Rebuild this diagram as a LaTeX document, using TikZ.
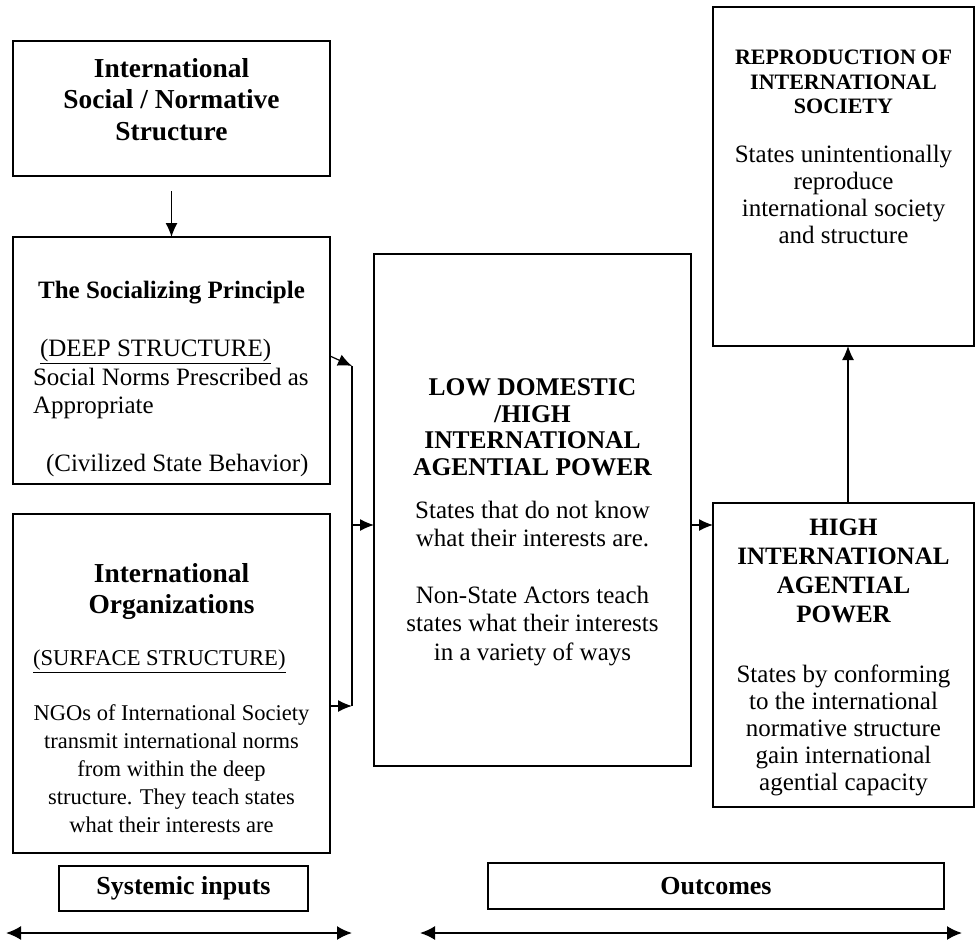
\documentclass[tikz,border=0pt]{standalone}
\usepackage{fontspec}
\setmainfont{Liberation Serif}
\usetikzlibrary{arrows.meta}

\newcommand{\fsz}[2]{\fontsize{#1pt}{#2pt}\selectfont}

\begin{document}
\begin{tikzpicture}[x=1pt,y=-1pt,
  box/.style={draw, line width=1.2pt, inner sep=0pt, outer sep=0pt},
  txt/.style={inner sep=0pt, outer sep=0pt, align=center},
  txtl/.style={inner sep=0pt, outer sep=0pt, align=left},
  arr/.style={line width=1.2pt, -{Latex[length=14pt,width=12pt]}},
  wide/.style={line width=1.8pt, {Latex[length=15pt,width=14pt]}-{Latex[length=15pt,width=14pt]}}]
\useasboundingbox (0,0) rectangle (975,942);

% boxes
\node[box, minimum width=317pt, minimum height=135pt] (boxA) at (171.5,108.5) {};
\node[box, minimum width=317pt, minimum height=247pt] (boxB) at (171.5,360.5) {};
\node[box, minimum width=317pt, minimum height=339pt] (boxC) at (171.5,683.5) {};
\node[box, minimum width=317pt, minimum height=512pt] (mid) at (532.5,510) {};
\node[box, minimum width=261pt, minimum height=339pt] (rtop) at (843.5,176.5) {};
\node[box, minimum width=261pt, minimum height=304pt] (rlow) at (843.5,655) {};
\node[box, minimum width=249pt, minimum height=45pt] (sysin) at (183.5,888.5) {};
\node[box, minimum width=456pt, minimum height=46pt] (outc) at (716,886) {};

% texts of the left column
\node[txt, anchor=north, font=\fsz{27.4}{31.7}\bfseries] (tA) at (171.5,58) {International\\Social / Normative\\Structure};
\node[txt, anchor=north, font=\fsz{25}{28.5}\bfseries] (tBh) at (171.5,281) {The Socializing Principle};
\node[txtl, anchor=north west, font=\fsz{25}{28.5}] (tBd) at (40,339) {\underline{(DEEP STRUCTURE)}};
\node[txtl, anchor=north west, font=\fsz{25}{28.3}] (tBn) at (33,368) {Social Norms Prescribed as\\Appropriate};
\node[txtl, anchor=north west, font=\fsz{25}{28.5}] (tBc) at (46,454) {(Civilized State Behavior)};
\node[txt, anchor=north, font=\fsz{27.4}{31.5}\bfseries] (tCh) at (171.5,563) {International\\Organizations};
\node[txtl, anchor=north west, font=\fsz{22.6}{27.5}] (tCs) at (33,650) {\underline{(SURFACE STRUCTURE)}};
\node[txt, anchor=north, font=\fsz{22.5}{28}] (tCn) at (171.5,705) {NGOs of International Society\\transmit international norms\\from within the deep\\structure. They teach states\\what their interests are};

% texts of the middle box
\node[txt, anchor=north, font=\fsz{25.5}{26.5}\bfseries] (tMh) at (532.5,379) {LOW DOMESTIC\\/HIGH\\INTERNATIONAL\\AGENTIAL POWER};
\node[txt, anchor=north, font=\fsz{25}{28.5}] (tM1) at (532.5,501) {States that do not know\\what their interests are.};
\node[txt, anchor=north, font=\fsz{25}{28.5}] (tM2) at (532.5,586) {Non-State Actors teach\\states what their interests\\in a variety of ways};

% texts of the right column
\node[txt, anchor=north, font=\fsz{22}{24.5}\bfseries] (tRh) at (843.5,50) {REPRODUCTION OF\\INTERNATIONAL\\SOCIETY};
\node[txt, anchor=north, font=\fsz{25}{27}] (tRb) at (843.5,145) {States unintentionally\\reproduce\\international society\\and structure};
\node[txt, anchor=north, font=\fsz{25}{29}\bfseries] (tLh) at (843.5,519) {HIGH\\INTERNATIONAL\\AGENTIAL\\POWER};
\node[txt, anchor=north, font=\fsz{25}{27}] (tLb) at (843.5,665) {States by conforming\\to the international\\normative structure\\gain international\\agential capacity};

% labels under the columns
\node[txt, font=\fsz{26}{28}\bfseries] (tS) at (sysin) {Systemic inputs};
\node[txt, font=\fsz{26}{28}\bfseries] (tO) at (outc) {Outcomes};

% connectors
\coordinate (bt) at (0,356);
\coordinate (jtop) at (352,366);
\coordinate (jmid) at (352,525);
\coordinate (jbot) at (352,706);
\coordinate (upx) at (848,0);
\draw[arr, shorten <=15pt] (boxA.south) -- (boxB.north);
\draw[arr] (boxB.east |- bt) -- (jtop);
\draw[line width=1.2pt] (jtop) -- (jbot);
\draw[arr] (boxC.east |- jbot) -- (jbot);
\draw[arr] (jmid) -- (mid.west |- jmid);
\draw[arr] (mid.east |- jmid) -- (rlow.west |- jmid);
\draw[arr] (rlow.north -| upx) -- (rtop.south -| upx);

% span arrows
\coordinate (la) at (6,933);
\coordinate (lb) at (352,933);
\coordinate (ra) at (420,933);
\coordinate (rb) at (962,933);
\draw[wide] (la) -- (lb);
\draw[wide] (ra) -- (rb);
\end{tikzpicture}
\end{document}
